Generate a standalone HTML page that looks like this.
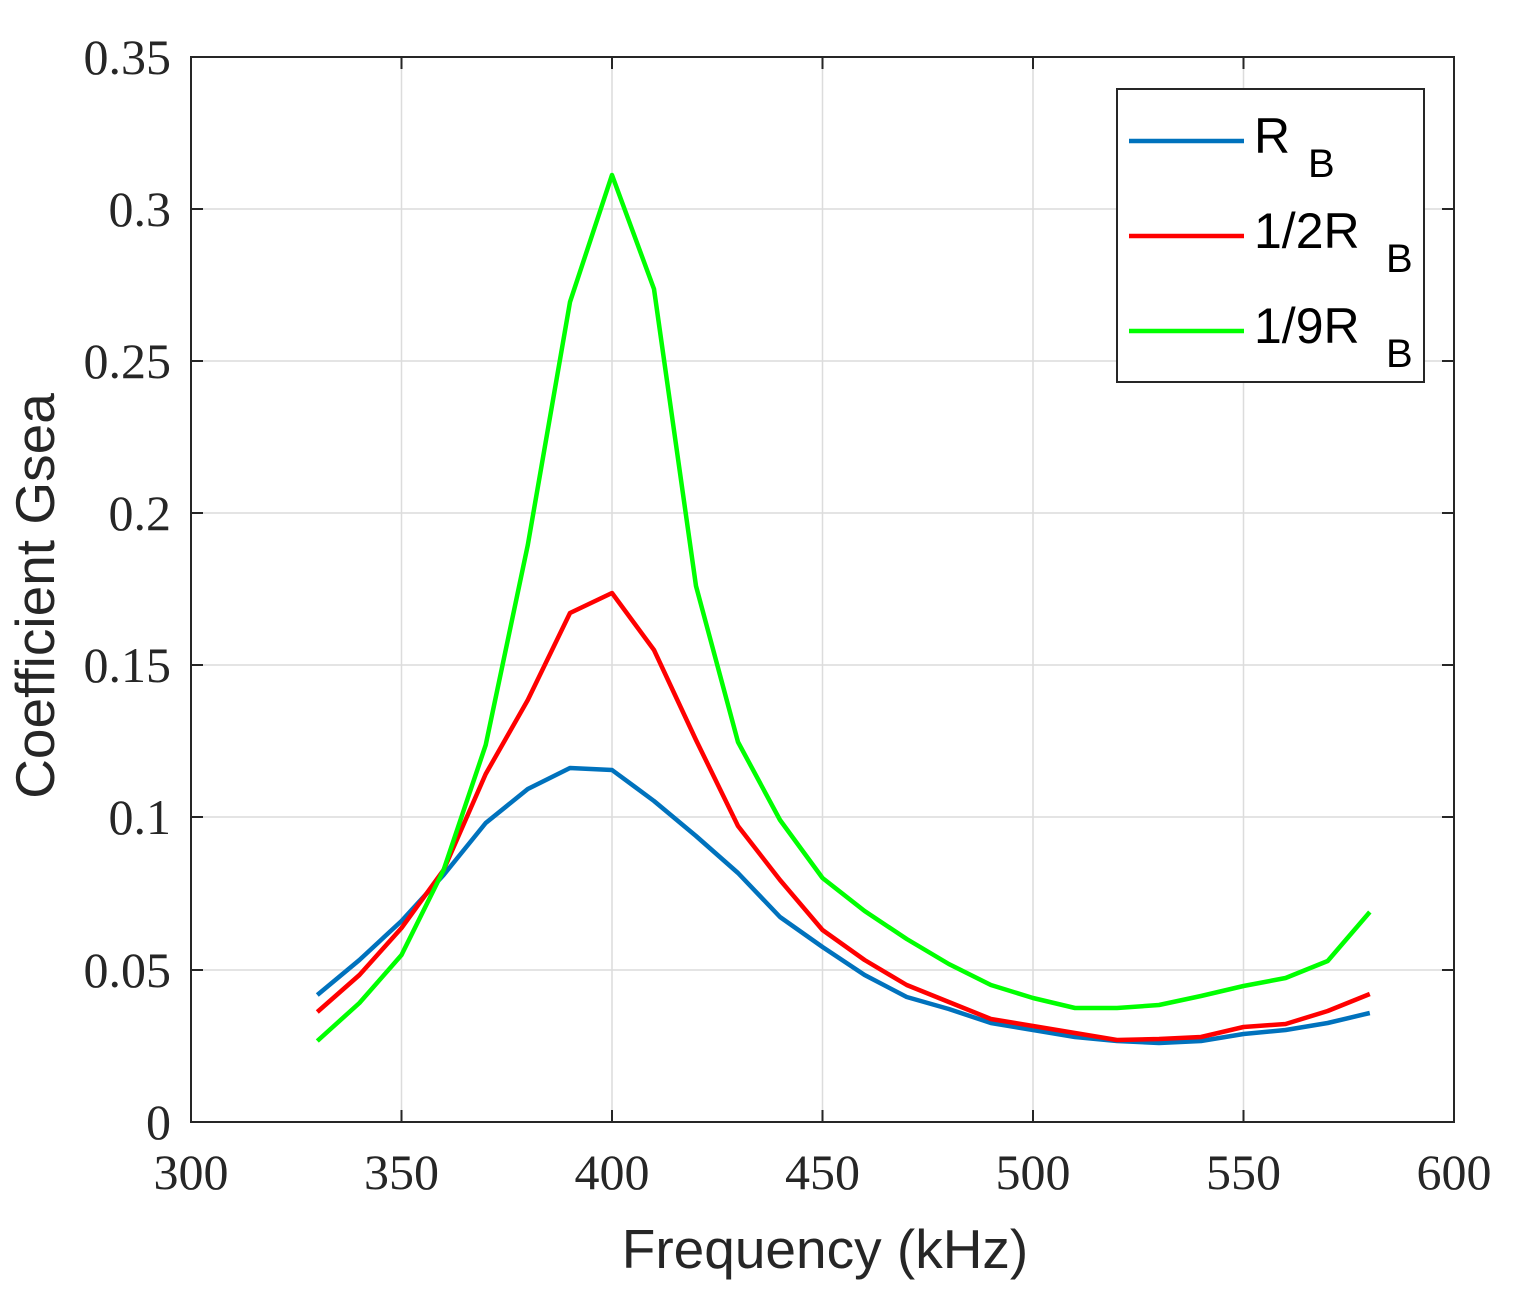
<!DOCTYPE html>
<html><head><meta charset="utf-8"><style>html,body{margin:0;padding:0;background:#fff}</style></head><body>
<svg width="1513" height="1297" viewBox="0 0 1513 1297" xmlns="http://www.w3.org/2000/svg">
<rect width="1513" height="1297" fill="#fff"/>
<g stroke="#dcdcdc" stroke-width="1.5">
<line x1="401.5" y1="57" x2="401.5" y2="1122"/><line x1="612" y1="57" x2="612" y2="1122"/><line x1="822.5" y1="57" x2="822.5" y2="1122"/><line x1="1033" y1="57" x2="1033" y2="1122"/><line x1="1243.5" y1="57" x2="1243.5" y2="1122"/>
<line x1="191" y1="970" x2="1454" y2="970"/><line x1="191" y1="817" x2="1454" y2="817"/><line x1="191" y1="665" x2="1454" y2="665"/><line x1="191" y1="513" x2="1454" y2="513"/><line x1="191" y1="361" x2="1454" y2="361"/><line x1="191" y1="209" x2="1454" y2="209"/>
</g>
<rect x="191" y="57" width="1263" height="1065" fill="none" stroke="#262626" stroke-width="2"/>
<g stroke="#262626" stroke-width="2">
<path d="M401.5 1122v-12M612 1122v-12M822.5 1122v-12M1033 1122v-12M1243.5 1122v-12M401.5 57v12M612 57v12M822.5 57v12M1033 57v12M1243.5 57v12"/>
<path d="M191 970h12M191 817h12M191 665h12M191 513h12M191 361h12M191 209h12M1454 970h-12M1454 817h-12M1454 665h-12M1454 513h-12M1454 361h-12M1454 209h-12"/>
</g>
<g font-family="Liberation Serif, serif" font-size="50" fill="#262626" text-anchor="middle">
<text x="191" y="1189">300</text><text x="401.5" y="1189">350</text><text x="612" y="1189">400</text><text x="822.5" y="1189">450</text><text x="1033" y="1189">500</text><text x="1243.5" y="1189">550</text><text x="1454" y="1189">600</text>
</g>
<g font-family="Liberation Serif, serif" font-size="50" fill="#262626" text-anchor="end">
<text x="171" y="1139">0</text><text x="171" y="987">0.05</text><text x="171" y="834">0.1</text><text x="171" y="682">0.15</text><text x="171" y="530">0.2</text><text x="171" y="378">0.25</text><text x="171" y="226">0.3</text><text x="171" y="74">0.35</text>
</g>
<text x="825" y="1268" font-family="Liberation Sans, sans-serif" font-size="55" fill="#262626" text-anchor="middle">Frequency (kHz)</text>
<text transform="translate(54 596) rotate(-90)" font-family="Liberation Sans, sans-serif" font-size="55" fill="#262626" text-anchor="middle">Coefficient Gsea</text>
<g fill="none" stroke-width="4.5" stroke-linejoin="round">
<polyline stroke="#0072bd" points="317.3,995 359.4,960 401.5,921 443.6,875 485.7,823 527.8,789 570,768 612,770 654,801 696,836 738,873 780,917 822.5,947 864.6,975 906.7,997 948.8,1009 990.9,1023 1033,1030 1075,1037 1117,1041 1159,1043 1201,1041 1243.5,1034 1285.6,1030 1327.7,1023 1369.8,1013"/>
<polyline stroke="#ff0000" points="317.3,1012 359.4,975 401.5,928 443.6,870 485.7,774 527.8,700 570,613 612,593 654,650 696,740 738,826 780,880 822.5,930 864.6,960 906.7,985 948.8,1002 990.9,1019 1033,1026 1075,1033 1117,1040 1159,1039 1201,1037 1243.5,1027 1285.6,1024 1327.7,1011 1369.8,994"/>
<polyline stroke="#00ff00" points="317.3,1041 359.4,1003 401.5,955 443.6,870 485.7,745 527.8,545 570,302 612,175 654,289 696,586 738,742 780,820 822.5,878 864.6,911 906.7,939 948.8,964 990.9,985 1033,998 1075,1008 1117,1008 1159,1005 1201,996 1243.5,986 1285.6,978 1327.7,961 1369.8,912"/>
</g>
<rect x="1117" y="89" width="307" height="293" fill="#fff" stroke="#262626" stroke-width="2"/>
<g stroke-width="4.5">
<line x1="1129" y1="141" x2="1244" y2="141" stroke="#0072bd"/>
<line x1="1129" y1="236" x2="1244" y2="236" stroke="#ff0000"/>
<line x1="1129" y1="331" x2="1244" y2="331" stroke="#00ff00"/>
</g>
<g font-family="Liberation Sans, sans-serif" font-size="50" fill="#000">
<text x="1254" y="153">R</text><text x="1308" y="177" font-size="40">B</text>
<text x="1254" y="248">1/2R</text><text x="1386" y="272" font-size="40">B</text>
<text x="1254" y="343">1/9R</text><text x="1386" y="367" font-size="40">B</text>
</g>
</svg>
</body></html>
